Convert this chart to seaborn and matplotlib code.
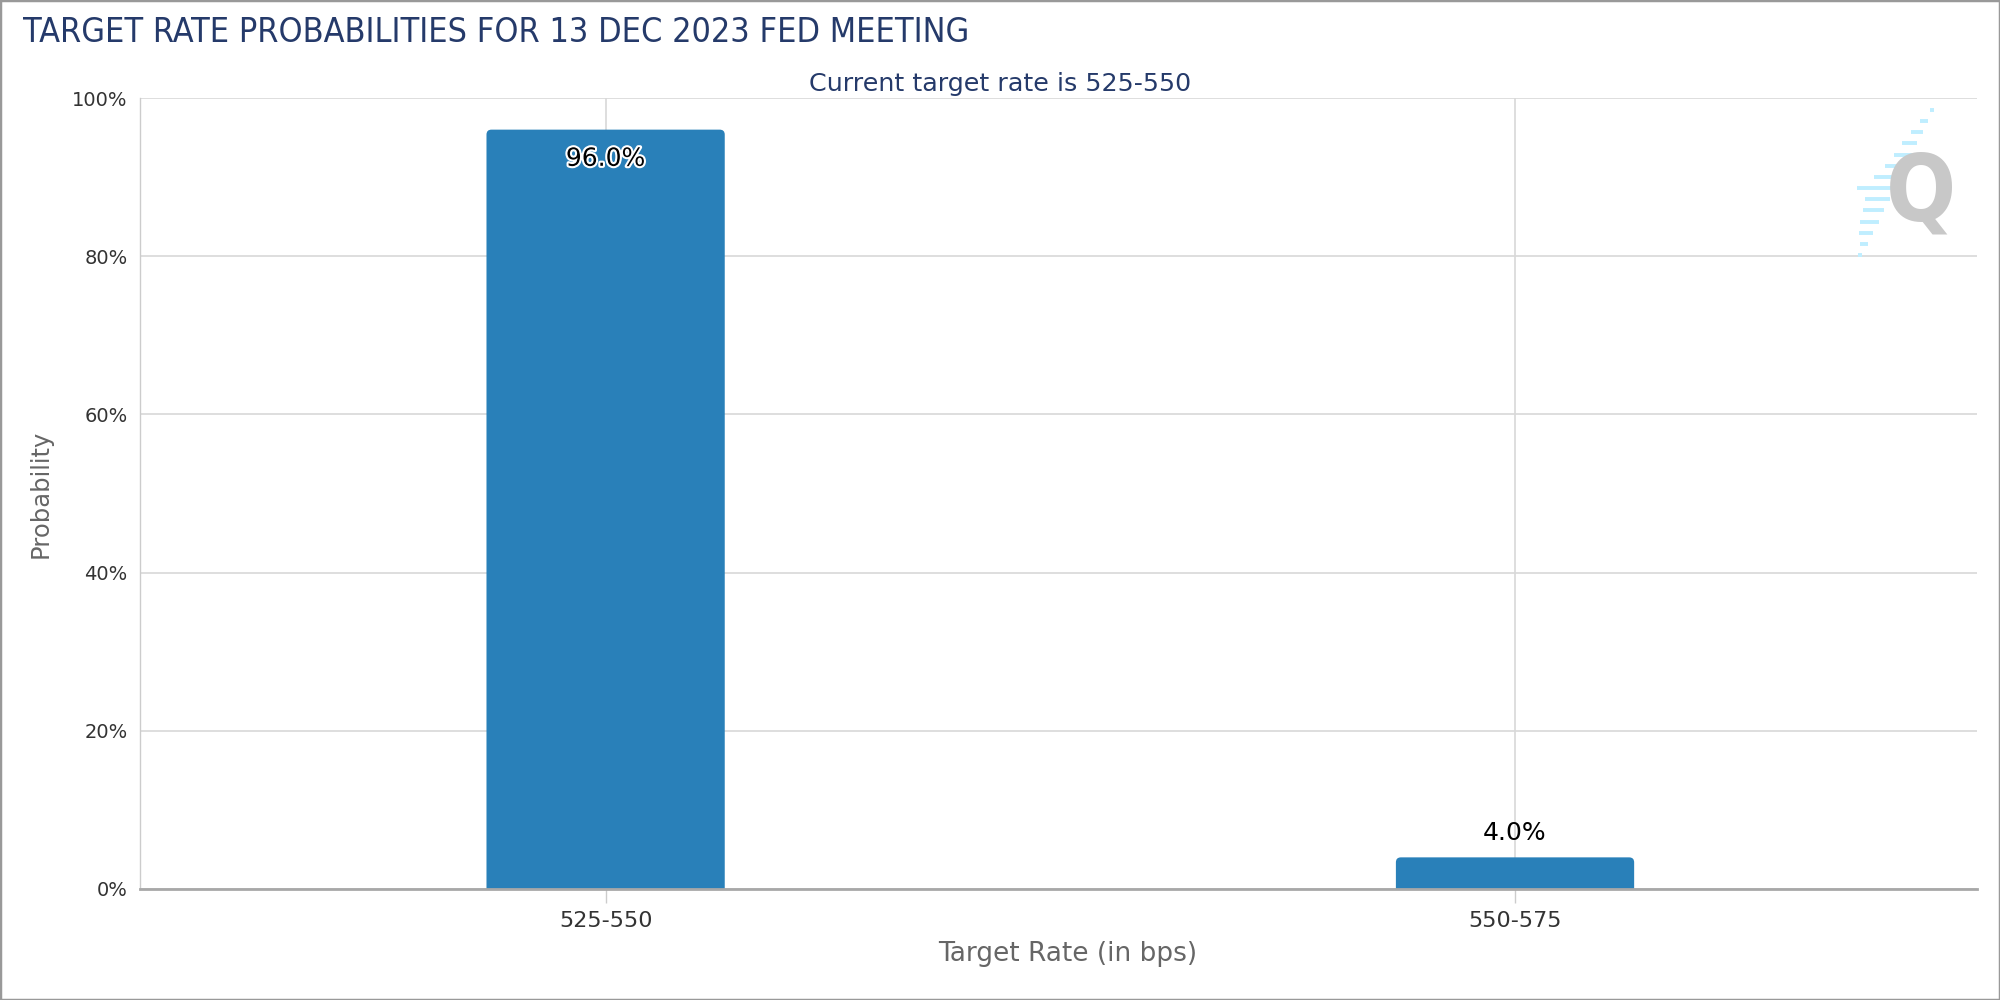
import matplotlib
matplotlib.use("Agg")
import matplotlib.pyplot as plt
import matplotlib.patheffects as pe
from matplotlib.lines import Line2D
from matplotlib.patches import Rectangle, FancyBboxPatch
import seaborn as sns
import pandas as pd

# ---- data ----
categories = ["525-550", "550-575"]
probabilities = [96.0, 4.0]
y_ticks = [0, 20, 40, 60, 80, 100]
y_tick_labels = ["0%", "20%", "40%", "60%", "80%", "100%"]
title = "TARGET RATE PROBABILITIES FOR 13 DEC 2023 FED MEETING"
subtitle = "Current target rate is 525-550"
x_label = "Target Rate (in bps)"
y_label = "Probability"

df = pd.DataFrame({"rate": categories, "prob": probabilities})

sns.set_theme(style="white")
plt.rcParams["font.family"] = ["DejaVu Sans"]

fig = plt.figure(figsize=(20, 10), dpi=100)
ax = fig.add_axes([0.07, 0.111, 0.9185, 0.791])

BAR = "#2980b9"
sns.barplot(data=df, x="rate", y="prob", color=BAR, saturation=1,
            width=0.262, ax=ax, zorder=3)

XL = (-0.512, 1.508)
ax.set_xlim(*XL)
ax.set_ylim(0, 100)
ax.set_yticks(y_ticks)
ax.set_yticklabels(y_tick_labels)

# rounded top corners for bars (geometry taken from seaborn's patches)
ax_w_px = 0.9185 * 2000
ax_h_px = 0.791 * 1000
x_per_px = (XL[1] - XL[0]) / ax_w_px
y_per_px = 100.0 / ax_h_px
for p in list(ax.patches):
    x0, y0 = p.get_x(), p.get_y()
    w, h = p.get_width(), p.get_height()
    r = 5 * x_per_px
    fb = FancyBboxPatch((x0, y0 - 3), w, h + 3,
                        boxstyle=f"round,pad=0,rounding_size={r}",
                        mutation_aspect=y_per_px / x_per_px,
                        facecolor=BAR, edgecolor="none", zorder=3)
    p.remove()
    ax.add_patch(fb)

# grid
ax.grid(True, axis="both", color="#d8d8d8", linewidth=1.2, zorder=0)
ax.set_axisbelow(True)

for s in ["top", "right"]:
    ax.spines[s].set_visible(False)
ax.spines["left"].set_color("#cccccc")
ax.spines["left"].set_linewidth(1.0)
ax.spines["bottom"].set_color("#a8a8a8")
ax.spines["bottom"].set_linewidth(2.0)
ax.spines["bottom"].set_zorder(4)

ax.tick_params(axis="y", length=0, pad=9, labelsize=14, labelcolor="#333333")
ax.tick_params(axis="x", length=10, width=1, color="#cccccc", pad=6,
               labelsize=16, labelcolor="#333333", bottom=True)

ax.set_xlabel(x_label, fontsize=19, color="#666666", va="center")
ax.xaxis.set_label_coords(0.505, -0.082)
ax.set_ylabel(y_label, fontsize=17.5, color="#666666", va="center", ha="center")
ax.yaxis.set_label_coords(-0.054, 0.5)

# bar value labels
for i, (cat, val) in enumerate(zip(categories, probabilities)):
    txt = f"{val:.1f}%"
    if val > 20:
        ax.annotate(txt, (i, val), xytext=(0, -21), textcoords="offset points",
                    ha="center", va="center", fontsize=18, color="black",
                    path_effects=[pe.withStroke(linewidth=3.0, foreground="white")],
                    zorder=5)
    else:
        ax.annotate(txt, (i, val), xytext=(0, 9), textcoords="offset points",
                    ha="center", va="bottom", fontsize=18, color="black",
                    zorder=5)

# titles
fig.text(0.0115, 0.958, title, fontsize=24.5, fontstretch="condensed",
         color="#253a6a", ha="left", va="baseline")
fig.text(0.5, 0.9095, subtitle, fontsize=18.3, color="#253a6a", ha="center",
         va="baseline")

# watermark logo (decoration)
dash_len_px = [4, 8, 12, 15, 18, 21, 27, 38, 25, 21, 19, 14, 8, 4]
top_xy = (1930, 110)
bot_xy = (1858, 255)
n = len(dash_len_px)
for k, L in enumerate(dash_len_px):
    t = k / (n - 1)
    xr = top_xy[0] + (bot_xy[0] - top_xy[0]) * t + 4
    yy = top_xy[1] + (bot_xy[1] - top_xy[1]) * t
    fig.add_artist(Line2D([(xr - L) / 2000, xr / 2000], [1 - yy / 1000, 1 - yy / 1000],
                          color="#bfeeff", linewidth=2.8, solid_capstyle="butt",
                          zorder=0.5))
fig.text(0.9605, 0.806, "Q", fontsize=66, color="#c8c8c8", fontweight="bold",
         fontstretch="condensed", ha="center", va="center", zorder=1)

# outer border
fig.add_artist(Rectangle((0, 0), 1, 1, transform=fig.transFigure, fill=False,
                         edgecolor="#999999", linewidth=2.5))

fig.savefig("out.png", dpi=100, facecolor="white")
